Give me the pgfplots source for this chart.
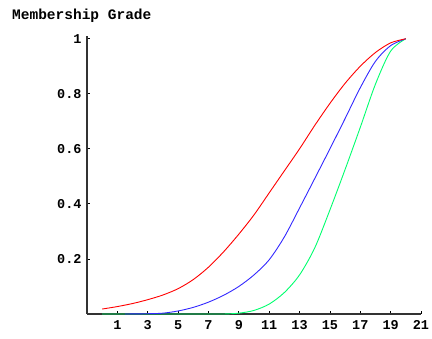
\documentclass[border=0pt]{standalone}
\usepackage{pgfplots}
\pgfplotsset{compat=1.18}
\usepackage{fontspec}
\setmonofont{Liberation Mono}
\definecolor{cred}{RGB}{255,0,0}
\definecolor{cblue}{RGB}{50,40,255}
\definecolor{cgreen}{RGB}{0,255,110}
\begin{document}
\begin{tikzpicture}
\path[use as bounding box] (-87pt,-25pt) rectangle (345pt,314pt);
\begin{axis}[
  at={(0,0)}, anchor=south west,
  scale only axis, width=334pt, height=278pt,
  xmin=-1, xmax=21, ymin=0, ymax=1.01,
  axis lines*=left,
  axis line style={-, line width=1.1pt, black!80},
  xtick={1,3,...,21},
  xticklabels={1,3,5,7,9,11,13,15,17,19,21},
  ytick={0.2,0.4,0.6,0.8,1},
  yticklabels={0.2,0.4,0.6,0.8,1},
  tick align=inside,
  major tick length=3pt,
  tick style={black, line width=0.8pt},
  ticklabel style={font=\ttfamily\bfseries\fontsize{13.5}{14}\selectfont},
  /pgf/number format/assume math mode=true,
  xticklabel style={yshift=-3pt},
  yticklabel style={xshift=-2pt},
  clip=false,
]
\addplot[cgreen, line width=0.9pt, smooth, tension=0.5] coordinates {
 (0,0) (7,0) (8,0) (9,0.003) (10,0.013) (11,0.036) (12,0.078) (13,0.142)
 (14,0.24) (15,0.378) (16,0.525) (17,0.678) (18,0.835) (19,0.955) (20,1)
};
\addplot[cblue, line width=0.9pt, smooth, tension=0.5] coordinates {
 (1.5,0) (3,0.001) (4,0.003) (5,0.011) (6,0.024) (7,0.043) (8,0.068)
 (9,0.1) (10,0.142) (11,0.197) (12,0.28) (13,0.385) (14,0.492)
 (15,0.60) (16,0.71) (17,0.822) (18,0.918) (19,0.975) (20,1)
};
\addplot[cred, line width=0.9pt, smooth, tension=0.5] coordinates {
 (0,0.018) (1,0.027) (2,0.038) (3,0.052) (4,0.069) (5,0.092) (6,0.125)
 (7,0.17) (8,0.226) (9,0.29) (10,0.36) (11,0.44) (12,0.52) (13,0.60)
 (14,0.685) (15,0.765) (16,0.838) (17,0.9) (18,0.95) (19,0.985) (20,1)
};
\node[anchor=west, font=\ttfamily\bfseries\fontsize{14.5}{15}\selectfont, inner sep=0pt]
  at ([xshift=-75pt, yshift=20pt]rel axis cs:0,1) {Membership Grade};
\end{axis}
\end{tikzpicture}
\end{document}
